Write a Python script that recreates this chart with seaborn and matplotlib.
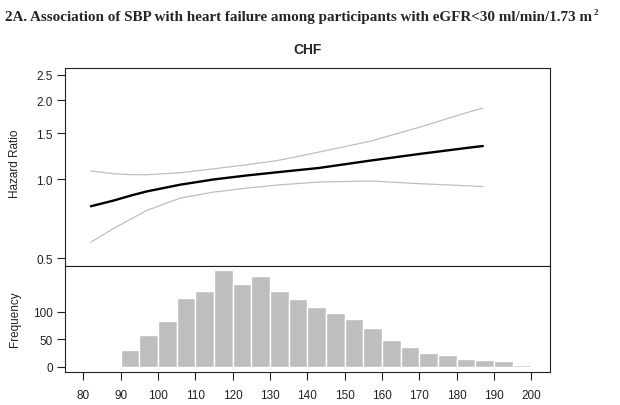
"""
SBP vs heart failure (CHF) among participants with eGFR<30:
spline hazard ratio on top, SBP frequency histogram below.
"""

import matplotlib
matplotlib.use("Agg")
import matplotlib.pyplot as plt
from matplotlib.ticker import NullLocator
import pandas as pd
import seaborn as sns

OUT_PATH = "out.png"

# hazard ratio curve with 95% CI
sbp = [82, 88, 93, 97, 106, 115, 124, 132, 143, 157, 170, 184, 187]
hr = [0.79, 0.83, 0.87, 0.90, 0.955, 1.00, 1.036, 1.065, 1.105, 1.18, 1.25, 1.325, 1.34]
hr_upper = [1.077, 1.051, 1.042, 1.042, 1.06, 1.098, 1.138, 1.18, 1.27, 1.40, 1.58, 1.82, 1.87]
hr_lower = [0.577, 0.649, 0.71, 0.762, 0.849, 0.895, 0.927, 0.952, 0.977, 0.986, 0.963, 0.944, 0.938]

# SBP distribution, 5 mmHg bins from 90 to 200
bin_edges = list(range(90, 205, 5))
freq = [30, 58, 83, 124, 137, 175, 150, 164, 137, 123, 109, 97, 87, 70, 48, 36, 25, 22, 14, 13, 10, 4]

hr_ticks = [0.5, 1.0, 1.5, 2.0, 2.5]
freq_ticks = [0, 50, 100]
sbp_ticks = list(range(80, 210, 10))

TITLE = "2A. Association of SBP with heart failure among participants with eGFR<30 ml/min/1.73 m"
GREY = "#BEBEBE"
XLIM = (75.15, 204.85)


def style_axes(ax):
    for side in ["left", "right", "top", "bottom"]:
        ax.spines[side].set_visible(True)
        ax.spines[side].set_color("#222222")
        ax.spines[side].set_linewidth(0.8)
    ax.tick_params(direction="out", length=5.5, width=0.8, color="#222222",
                   labelsize=8.5, labelcolor="#222222")


def main():
    sns.set_style("ticks")
    plt.rcParams["font.family"] = ["Liberation Sans", "DejaVu Sans"]

    fig = plt.figure(figsize=(6.2, 4.06), dpi=100)
    ax1 = fig.add_axes([0.1053, 0.3431, 0.7810, 0.4862])
    ax2 = fig.add_axes([0.1053, 0.0825, 0.7810, 0.2606])

    # top: hazard ratio
    curves = pd.DataFrame({"sbp": sbp, "hr": hr, "upper": hr_upper, "lower": hr_lower})
    sns.lineplot(data=curves, x="sbp", y="upper", color=GREY, lw=0.9, ax=ax1)
    sns.lineplot(data=curves, x="sbp", y="lower", color=GREY, lw=0.9, ax=ax1)
    sns.lineplot(data=curves, x="sbp", y="hr", color="black", lw=1.7, ax=ax1)
    ax1.set_yscale("log")
    ax1.set_ylim(0.469, 2.65)
    ax1.set_xlim(*XLIM)
    ax1.set_yticks(hr_ticks)
    ax1.set_yticklabels([f"{t:.1f}" for t in hr_ticks])
    ax1.yaxis.set_minor_locator(NullLocator())
    ax1.set_xticks([])
    ax1.set_xlabel("")
    ax1.set_ylabel("Hazard Ratio", fontsize=8.5, color="#222222")
    ax1.yaxis.set_label_coords(-0.092, 0.52)
    ax1.set_title("CHF", fontsize=10, fontweight="bold", pad=11)
    style_axes(ax1)

    # bottom: frequency histogram
    mids = [e + 2.5 for e in bin_edges[:-1]]
    sns.histplot(x=mids, weights=freq, bins=bin_edges, color=GREY, edgecolor="white",
                 linewidth=1, alpha=1, ax=ax2)
    ax2.set_xlim(*XLIM)
    ax2.set_ylim(-8.7, 183.6)
    ax2.set_yticks(freq_ticks)
    ax2.set_xticks(sbp_ticks)
    ax2.set_xlabel("")
    ax2.set_ylabel("Frequency", fontsize=8.5, color="#222222")
    ax2.yaxis.set_label_coords(-0.092, 0.505)
    style_axes(ax2)
    ax2.tick_params(axis="x", pad=7)

    title = fig.text(0.008, 1 - 18 / 406, TITLE, family=["Liberation Serif"],
                     fontweight="bold", fontsize=10.9, va="center", ha="left")
    # superscript 2 placed just after the title
    fig.canvas.draw()
    bb = title.get_window_extent().transformed(fig.transFigure.inverted())
    fig.text(bb.x1 + 0.002, bb.y1 + 0.006, "2", family=["Liberation Serif"],
             fontweight="bold", fontsize=6.5, va="top", ha="left")

    fig.savefig(OUT_PATH, dpi=100)


if __name__ == "__main__":
    main()
